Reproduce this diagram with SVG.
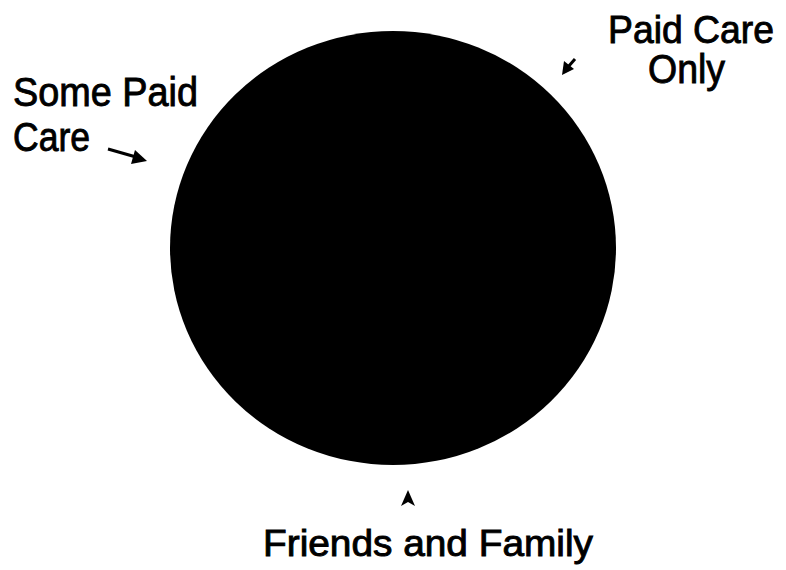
<svg xmlns="http://www.w3.org/2000/svg" width="786" height="570" viewBox="0 0 786 570">
<style>
.lbl{font-family:"Liberation Sans",Arial,sans-serif;font-size:40px;fill:#000;stroke:#000;stroke-width:0.9px;}
.ln{stroke:#000;stroke-width:3;fill:none;}
.hd{fill:#000;}
</style>
<rect width="786" height="570" fill="#fff"/>
<g id="circle">
<ellipse cx="393" cy="248" rx="223" ry="217" fill="#000"/>
</g>
<g id="some-paid-care">
<text class="lbl" x="13" y="106" textLength="185" lengthAdjust="spacingAndGlyphs">Some Paid</text>
<text class="lbl" x="13" y="151" textLength="77" lengthAdjust="spacingAndGlyphs">Care</text>
</g>
<g id="paid-care-only">
<text class="lbl" x="608" y="43" font-size="39" style="font-size:39px" textLength="166" lengthAdjust="spacingAndGlyphs">Paid Care</text>
<text class="lbl" x="648" y="83" textLength="77" lengthAdjust="spacingAndGlyphs">Only</text>
</g>
<g id="friends-family">
<text class="lbl" x="263" y="556" style="font-size:36px" textLength="330" lengthAdjust="spacingAndGlyphs">Friends and Family</text>
</g>
<g id="connectors">
<line class="ln" x1="108" y1="149" x2="136" y2="157"/>
<polygon class="hd" points="147,161 131,164 135,150"/>
<line class="ln" x1="575" y1="59" x2="568" y2="67"/>
<polygon class="hd" points="562,75 564,61 574,69"/>
<polygon class="hd" points="408,490 401,506 408,502 415,506"/>
</g>
</svg>
